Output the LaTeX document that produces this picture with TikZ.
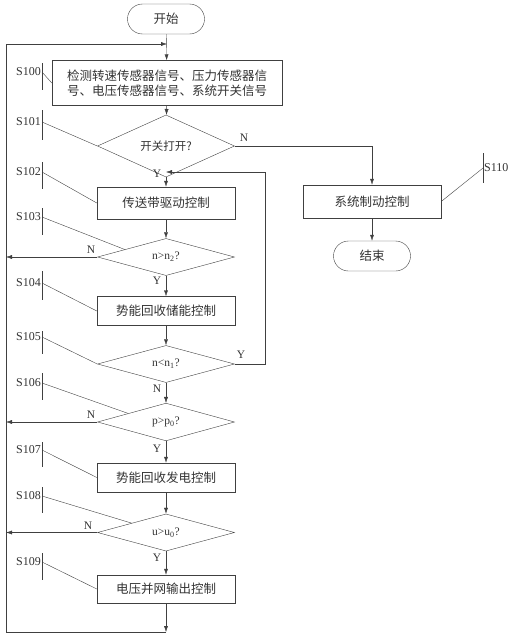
\documentclass[tikz,border=0pt]{standalone}
\usepackage{fontspec}
\setmainfont{Liberation Serif}
\newfontfamily\cjk{Noto Sans CJK SC}
\usetikzlibrary{shapes.geometric,arrows.meta,calc}
\definecolor{linecol}{gray}{0.25}
\definecolor{textcol}{gray}{0.2}

\tikzset{
    stepbox/.style={draw=linecol, rectangle, minimum width=138pt, minimum height=29pt,
        inner sep=0pt, text=textcol, font=\cjk\fontsize{12.5}{15}\selectfont},
    termbox/.style={stepbox, rounded corners=15pt, minimum width=77pt, minimum height=30pt},
    decide/.style={draw=linecol, diamond, minimum width=137pt, minimum height=34pt,
        inner sep=0pt, text=textcol, font=\fontsize{11.5}{13}\selectfont},
    flow/.style={draw=linecol, -{Latex[length=6pt,width=4pt]}},
    lead/.style={draw=linecol, thin},
    yn/.style={text=textcol, inner sep=0pt, font=\fontsize{11.5}{13}\selectfont},
    slabel/.style={text=textcol, inner sep=1pt, anchor=east, font=\fontsize{12}{14}\selectfont}
}

\begin{document}
\begin{tikzpicture}[x=1pt,y=-1pt]
            \useasboundingbox (0,0) rectangle (516,637);

            % main column
            \node[termbox] (start) at (166,19) {开始};
            \node[stepbox, minimum width=230pt, minimum height=45pt, align=left] (s100) at (167,83)
                {检测转速传感器信号、压力传感器信\\号、电压传感器信号、系统开关信号};
            \node[decide, minimum height=39pt] (s101) at (166,146) {\cjk 开关打开?};
            \node[stepbox, minimum height=32pt] (s102) at (166,203) {传送带驱动控制};
            \node[decide, minimum height=33pt] (s103) at (166,257) {n>n\textsubscript{2}?};
            \node[stepbox] (s104) at (166,311) {势能回收储能控制};
            \node[decide] (s105) at (166,364) {n<n\textsubscript{1}?};
            \node[decide, minimum height=33pt] (s106) at (166,422) {p>p\textsubscript{0}?};
            \node[stepbox] (s107) at (166,477.5) {势能回收发电控制};
            \node[decide, minimum height=32pt] (s108) at (166,532.5) {u>u\textsubscript{0}?};
            \node[stepbox, minimum height=28pt] (s109) at (166,589) {电压并网输出控制};

            % right branch
            \node[stepbox, minimum height=33pt] (s110) at (372,201.5) {系统制动控制};
            \node[termbox] (stop) at (372,256) {结束};

            % loop corners
            \coordinate (loopB) at (6,632);
            \coordinate (loopT) at (6,44);
            \coordinate (retR) at (265,172);

            \draw[flow] (start) -- (s100);
            \draw[flow] (s100) -- (s101);
            \draw[flow] (s101) -- (s102);
            \draw[flow] (s101.east) -| (s110.north);
            \draw[flow] (s110) -- (stop);
            \draw[flow] (s102) -- (s103);
            \draw[flow] (s103.west) -- (s103.west -| loopB);
            \draw[flow] (s103) -- (s104);
            \draw[flow] (s104) -- (s105);
            \draw[flow] (s105.east) -| (retR) -- (retR -| s102.north);
            \draw[flow] (s105) -- (s106);
            \draw[flow] (s106.west) -- (s106.west -| loopB);
            \draw[flow] (s106) -- (s107);
            \draw[flow] (s107) -- (s108);
            \draw[flow] (s108.west) -- (s108.west -| loopB);
            \draw[flow] (s108) -- (s109);
            \draw[flow] (s109) -- (s109 |- loopB);
            \draw[flow] (s109 |- loopB) -- (loopB) -- (loopT) -- (loopT -| s100.north);

            % Y / N
            \node[yn] (y101) at (157,174) {Y};
            \node[yn] (n101) at (244,138) {N};
            \node[yn] (n103) at (91,250) {N};
            \node[yn] (y103) at (157,281) {Y};
            \node[yn] (y105) at (241,355) {Y};
            \node[yn] (n105) at (157,389) {N};
            \node[yn] (n106) at (91,415) {N};
            \node[yn] (y106) at (157,449) {Y};
            \node[yn] (n108) at (88,526) {N};
            \node[yn] (y108) at (157,558) {Y};

            % step labels
            \node[slabel] (l100) at (42,72) {S100};
            \draw[lead] (l100.east) ++(0,-9) -- ++(0,27);
            \draw[lead] (l100.east) -- (s100.west);

            \node[slabel] (l101) at (42,122) {S101};
            \draw[lead] (l101.east) ++(0,-12) -- ++(0,30);
            \draw[lead] (l101.east) -- (s101.west);

            \node[slabel] (l102) at (42,172) {S102};
            \draw[lead] (l102.east) ++(0,-10) -- ++(0,27);
            \draw[lead] (l102.east) -- (s102.west);

            \node[slabel] (l103) at (42,217) {S103};
            \draw[lead] (l103.east) ++(0,-9) -- ++(0,27);
            \draw[lead] (l103.east) -- ($(s103.west)!0.4!(s103.north)$);

            \node[slabel] (l104) at (42,283) {S104};
            \draw[lead] (l104.east) ++(0,-12) -- ++(0,29);
            \draw[lead] (l104.east) -- (s104.west);

            \node[slabel] (l105) at (42,337) {S105};
            \draw[lead] (l105.east) ++(0,-6) -- ++(0,23);
            \draw[lead] (l105.east) -- (s105.west);

            \node[slabel] (l106) at (42,383) {S106};
            \draw[lead] (l106.east) ++(0,-10) -- ++(0,27);
            \draw[lead] (l106.east) -- ($(s106.west)!0.45!(s106.north)$);

            \node[slabel] (l107) at (42,450) {S107};
            \draw[lead] (l107.east) ++(0,-8) -- ++(0,25);
            \draw[lead] (l107.east) -- (s107.west);

            \node[slabel] (l108) at (42,496) {S108};
            \draw[lead] (l108.east) ++(0,-9) -- ++(0,26);
            \draw[lead] (l108.east) -- ($(s108.west)!0.5!(s108.north)$);

            \node[slabel] (l109) at (42,562) {S109};
            \draw[lead] (l109.east) ++(0,-9) -- ++(0,27);
            \draw[lead] (l109.east) -- (s109.west);

            \node[slabel, anchor=west] (l110) at (483,168) {S110};
            \draw[lead] (l110.west) ++(0,-15) -- ++(0,30);
            \draw[lead] (l110.west) -- (s110.east);
        \end{tikzpicture}
\end{document}
